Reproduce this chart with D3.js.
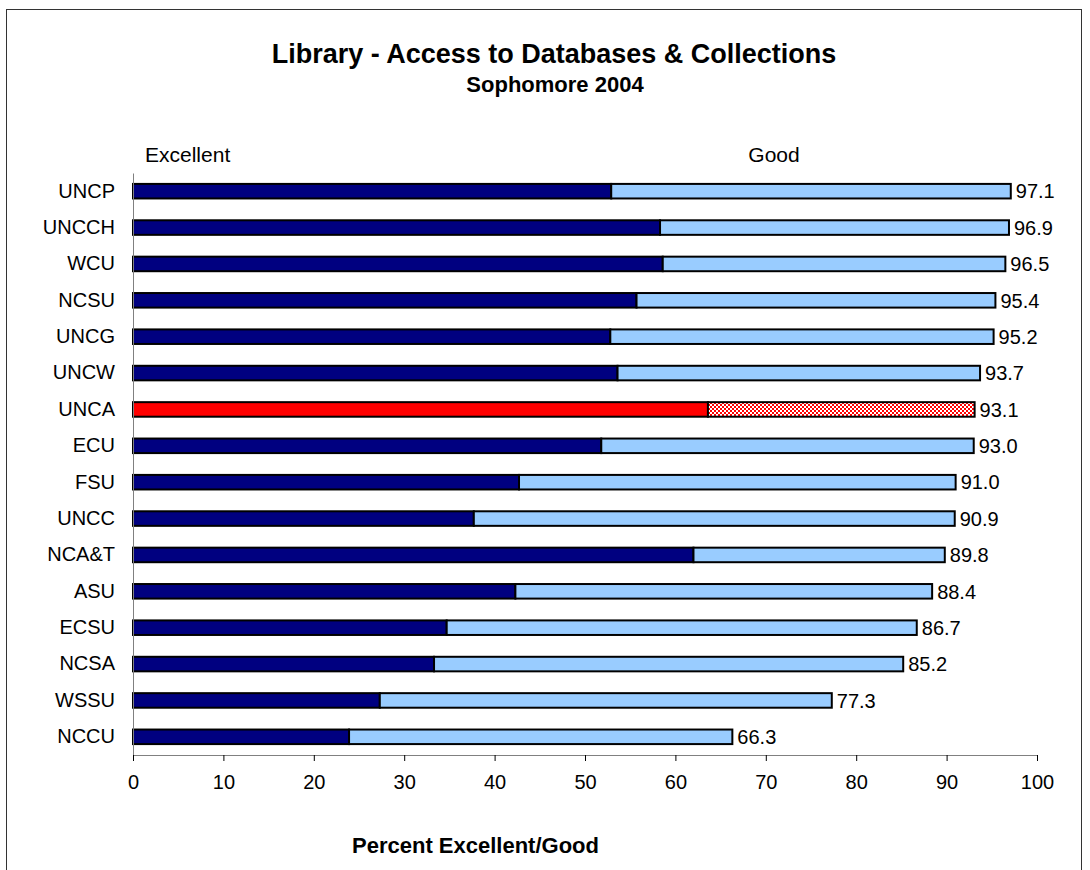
<!DOCTYPE html>
<html>
<head>
<meta charset="utf-8">
<script src="https://cdn.jsdelivr.net/npm/d3@7"></script>
<style>
  html, body { margin: 0; padding: 0; background: #fff; }
  svg { display: block; font-family: Arial, "Liberation Sans", sans-serif; }
</style>
</head>
<body>
<svg id="chart" width="1090" height="870"></svg>
<script>
const categories = ["UNCP","UNCCH","WCU","NCSU","UNCG","UNCW","UNCA","ECU","FSU","UNCC","NCA&T","ASU","ECSU","NCSA","WSSU","NCCU"];
const excellent = [52.9, 58.3, 58.6, 55.7, 52.8, 53.6, 63.6, 51.8, 42.7, 37.7, 62.0, 42.3, 34.7, 33.3, 27.3, 23.9];
const totals = [97.1, 96.9, 96.5, 95.4, 95.2, 93.7, 93.1, 93.0, 91.0, 90.9, 89.8, 88.4, 86.7, 85.2, 77.3, 66.3];
const good = totals.map((t, i) => +(t - excellent[i]).toFixed(1));
const highlight = "UNCA";
const xTicks = [0,10,20,30,40,50,60,70,80,90,100];
const titleText = "Library - Access to Databases & Collections";
const subtitleText = "Sophomore 2004";
const axisTitle = "Percent Excellent/Good";
const seriesNames = ["Excellent", "Good"];

const FONT = "Arial, 'Liberation Sans', sans-serif";
const svg = d3.select("#chart");

// pattern for highlighted "Good" segment
const defs = svg.append("defs");
const pat = defs.append("pattern").attr("id", "checker")
  .attr("patternUnits", "userSpaceOnUse").attr("width", 4).attr("height", 4);
pat.append("rect").attr("width", 4).attr("height", 4).attr("fill", "#fff");
pat.append("rect").attr("width", 2).attr("height", 2).attr("fill", "#ff0000");
pat.append("rect").attr("x", 2).attr("y", 2).attr("width", 2).attr("height", 2).attr("fill", "#ff0000");

// outer frame
svg.append("rect").attr("x", 6.5).attr("y", 9.5).attr("width", 1075).attr("height", 900)
  .attr("fill", "none").attr("stroke", "#333").attr("stroke-width", 1);

const plot = { left: 133, right: 1037, top: 173, bottom: 755 };

const x = d3.scaleLinear().domain([0, 100]).range([plot.left, plot.right]);
const y = d3.scaleBand().domain(categories).range([plot.top, plot.bottom])
  .paddingInner(0.6).paddingOuter(0.3);

// titles
svg.append("text").attr("x", 554).attr("y", 63).attr("text-anchor", "middle")
  .attr("font-size", 27).attr("font-weight", "bold").text(titleText);
svg.append("text").attr("x", 555).attr("y", 92).attr("text-anchor", "middle")
  .attr("font-size", 22).attr("font-weight", "bold").text(subtitleText);

// series header labels
svg.append("text").attr("x", 145).attr("y", 162).attr("font-size", 21).text(seriesNames[0]);
svg.append("text").attr("x", 774).attr("y", 162).attr("text-anchor", "middle").attr("font-size", 21).text(seriesNames[1]);

// bars
const rows = svg.append("g").selectAll("g").data(categories).join("g");
rows.append("rect")
  .attr("x", x(0))
  .attr("y", d => y(d))
  .attr("width", (d, i) => x(excellent[i]) - x(0))
  .attr("height", y.bandwidth())
  .attr("fill", d => d === highlight ? "#ff0000" : "#000080")
  .attr("stroke", "#000").attr("stroke-width", 2);
rows.append("rect")
  .attr("x", (d, i) => x(excellent[i]))
  .attr("y", d => y(d))
  .attr("width", (d, i) => x(excellent[i] + good[i]) - x(excellent[i]))
  .attr("height", y.bandwidth())
  .attr("fill", d => d === highlight ? "url(#checker)" : "#99ccff")
  .attr("stroke", "#000").attr("stroke-width", 2);

// value labels
rows.append("text")
  .attr("x", (d, i) => x(totals[i]) + 5)
  .attr("y", d => y(d) + y.bandwidth() / 2)
  .attr("dy", "0.36em")
  .attr("font-size", 20)
  .text((d, i) => totals[i].toFixed(1));

// y axis
const yAxis = svg.append("g").attr("transform", `translate(${plot.left},0)`)
  .call(d3.axisLeft(y).tickSize(0).tickPadding(18));
yAxis.select(".domain").attr("stroke", "#808080").attr("stroke-width", 1);
yAxis.selectAll("text").attr("font-size", 20).attr("fill", "#000").attr("font-family", FONT);

// x axis
const xAxis = svg.append("g").attr("transform", `translate(0,${plot.bottom})`)
  .call(d3.axisBottom(x).tickValues(xTicks).tickSize(6).tickSizeOuter(0).tickPadding(14));
xAxis.select(".domain").attr("stroke", "#808080").attr("stroke-width", 1);
xAxis.selectAll(".tick line").attr("stroke", "#000");
xAxis.selectAll("text").attr("font-size", 20).attr("fill", "#000").attr("font-family", FONT);

// axis title
svg.append("text").attr("x", 352).attr("y", 853).attr("text-anchor", "start")
  .attr("font-size", 22).attr("font-weight", "bold").text(axisTitle);
</script>
</body>
</html>
